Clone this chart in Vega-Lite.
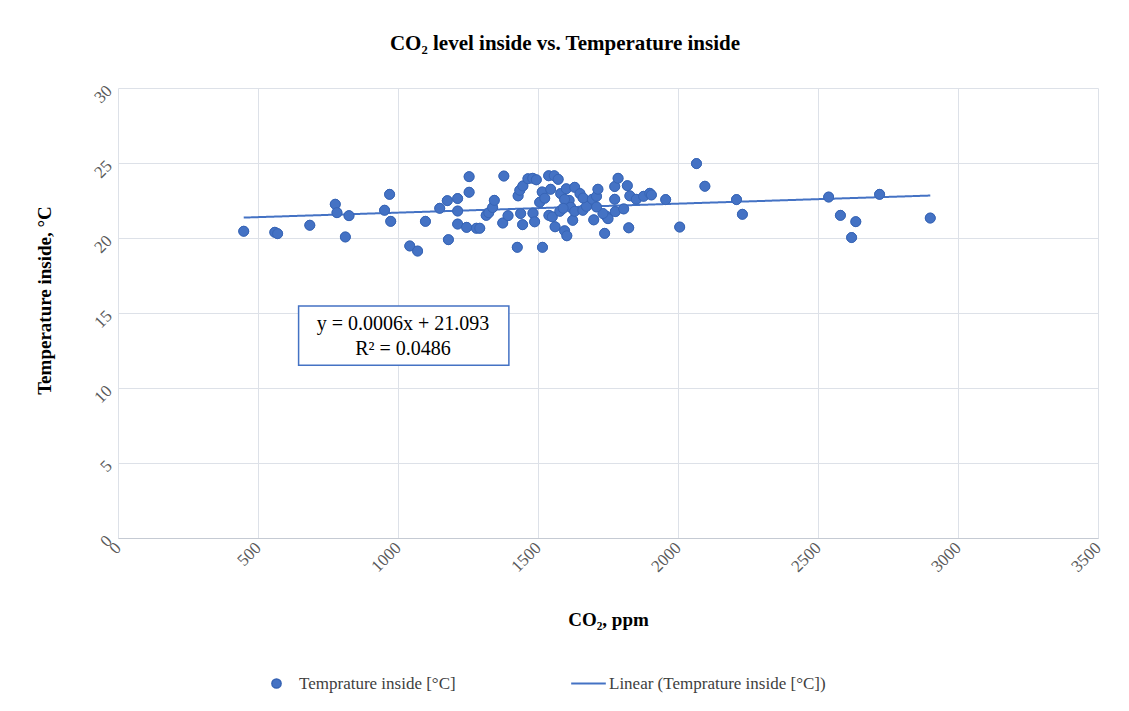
{
  "$schema": "https://vega.github.io/schema/vega-lite/v6.json",
  "width": 980,
  "height": 450,
  "autosize": {"type": "none"},
  "padding": {"left": 118, "top": 88, "right": 31, "bottom": 173},
  "background": "white",
  "config": {"view": {"stroke": null}, "font": "Liberation Serif", "axis": {"labelFont": "Liberation Serif", "titleFont": "Liberation Serif"}, "legend": {"labelFont": "Liberation Serif"}},
  "title": {"text": "CO₂ level inside vs. Temperature inside", "fontSize": 21, "font": "Liberation Serif", "fontWeight": "bold", "color": "#000000", "offset": 28, "dx": -43, "anchor": "middle"},
  "datasets": {
    "points": [
      {"co2": 449, "temp": 20.45}, {"co2": 560, "temp": 20.38}, {"co2": 570, "temp": 20.29}, {"co2": 685, "temp": 20.85},
      {"co2": 776, "temp": 22.25}, {"co2": 782, "temp": 21.69}, {"co2": 812, "temp": 20.07}, {"co2": 825, "temp": 21.49},
      {"co2": 952, "temp": 21.85}, {"co2": 970, "temp": 22.91}, {"co2": 974, "temp": 21.11}, {"co2": 1042, "temp": 19.47},
      {"co2": 1070, "temp": 19.13}, {"co2": 1098, "temp": 21.11}, {"co2": 1149, "temp": 21.98}, {"co2": 1176, "temp": 22.49},
      {"co2": 1180, "temp": 19.89}, {"co2": 1213, "temp": 22.63}, {"co2": 1213, "temp": 21.8}, {"co2": 1213, "temp": 20.93},
      {"co2": 1245, "temp": 20.71}, {"co2": 1280, "temp": 20.65}, {"co2": 1292, "temp": 20.65}, {"co2": 1254, "temp": 24.09},
      {"co2": 1254, "temp": 23.05}, {"co2": 1315, "temp": 21.51}, {"co2": 1324, "temp": 21.68}, {"co2": 1338, "temp": 22.03},
      {"co2": 1344, "temp": 22.51}, {"co2": 1378, "temp": 24.13}, {"co2": 1374, "temp": 21.0}, {"co2": 1393, "temp": 21.49},
      {"co2": 1429, "temp": 22.81}, {"co2": 1435, "temp": 23.18}, {"co2": 1446, "temp": 23.47}, {"co2": 1464, "temp": 23.95},
      {"co2": 1481, "temp": 23.98}, {"co2": 1494, "temp": 23.88}, {"co2": 1426, "temp": 19.38}, {"co2": 1438, "temp": 21.63},
      {"co2": 1445, "temp": 20.89}, {"co2": 1482, "temp": 21.65}, {"co2": 1488, "temp": 21.08}, {"co2": 1506, "temp": 22.38},
      {"co2": 1516, "temp": 19.38}, {"co2": 1515, "temp": 23.07}, {"co2": 1538, "temp": 24.15}, {"co2": 1558, "temp": 24.15},
      {"co2": 1572, "temp": 23.91}, {"co2": 1539, "temp": 21.51}, {"co2": 1551, "temp": 21.41}, {"co2": 1561, "temp": 20.75},
      {"co2": 1578, "temp": 21.78}, {"co2": 1581, "temp": 22.96}, {"co2": 1595, "temp": 20.48}, {"co2": 1603, "temp": 20.15},
      {"co2": 1601, "temp": 23.28}, {"co2": 1611, "temp": 22.51}, {"co2": 1617, "temp": 22.05}, {"co2": 1624, "temp": 21.18},
      {"co2": 1631, "temp": 23.38}, {"co2": 1650, "temp": 22.96}, {"co2": 1631, "temp": 21.78}, {"co2": 1660, "temp": 21.85},
      {"co2": 1673, "temp": 22.11}, {"co2": 1661, "temp": 22.67}, {"co2": 1694, "temp": 22.58}, {"co2": 1709, "temp": 22.78},
      {"co2": 1699, "temp": 21.21}, {"co2": 1714, "temp": 23.25}, {"co2": 1738, "temp": 20.31}, {"co2": 1744, "temp": 21.45},
      {"co2": 1750, "temp": 21.29}, {"co2": 1732, "temp": 21.63}, {"co2": 1709, "temp": 22.07}, {"co2": 1776, "temp": 21.76},
      {"co2": 1774, "temp": 22.58}, {"co2": 1774, "temp": 23.43}, {"co2": 1786, "temp": 23.98}, {"co2": 1806, "temp": 21.94},
      {"co2": 1819, "temp": 23.49}, {"co2": 1828, "temp": 22.81}, {"co2": 1824, "temp": 20.68}, {"co2": 1851, "temp": 22.58},
      {"co2": 1877, "temp": 22.78}, {"co2": 1899, "temp": 22.98}, {"co2": 1905, "temp": 22.87}, {"co2": 1956, "temp": 22.56},
      {"co2": 2006, "temp": 20.73}, {"co2": 2066, "temp": 24.96}, {"co2": 2096, "temp": 23.45}, {"co2": 2209, "temp": 22.56},
      {"co2": 2230, "temp": 21.58}, {"co2": 2538, "temp": 22.73}, {"co2": 2580, "temp": 21.51}, {"co2": 2620, "temp": 20.03},
      {"co2": 2635, "temp": 21.09}, {"co2": 2720, "temp": 22.91}, {"co2": 2901, "temp": 21.33}, {"co2": 1545, "temp": 23.25},
      {"co2": 1524, "temp": 22.65}, {"co2": 1595, "temp": 22.58}, {"co2": 1590, "temp": 21.98}
    ],
    "trend": [
      {"co2": 449, "temp": 21.36, "series": "Linear (Temprature inside [°C])"},
      {"co2": 2901, "temp": 22.83, "series": "Linear (Temprature inside [°C])"}
    ],
    "box": [{"x1": 645, "x2": 1396, "y1": 15.47, "y2": 11.51}],
    "eq": [
      {"x": 1018, "y": 14.29, "label": "y = 0.0006x + 21.093"},
      {"x": 1018, "y": 12.63, "label": "R² = 0.0486"}
    ]
  },
  "layer": [
    {
      "data": {"name": "points"},
      "transform": [{"calculate": "'Temprature inside [°C]'", "as": "series"}],
      "mark": {"type": "point", "filled": true, "size": 100, "opacity": 1, "stroke": "#3562b3", "strokeWidth": 0.8},
      "encoding": {
        "x": {
          "field": "co2", "type": "quantitative",
          "scale": {"domain": [0, 3500], "nice": false, "zero": false},
          "axis": {
            "title": "CO₂, ppm", "values": [0, 500, 1000, 1500, 2000, 2500, 3000, 3500], "format": "d",
            "labelAngle": -45, "labelAlign": "right", "labelBaseline": "middle",
            "labelFontSize": 17, "labelColor": "#595959", "labelFont": "Liberation Serif", "labelPadding": 7,
            "ticks": false, "domainColor": "#c5cad3", "grid": true, "gridColor": "#dde1e8",
            "titleFontSize": 19, "titleFontWeight": "bold", "titleColor": "#000000", "titleFont": "Liberation Serif", "titlePadding": 36
          }
        },
        "y": {
          "field": "temp", "type": "quantitative",
          "scale": {"domain": [0, 30], "nice": false, "zero": false},
          "axis": {
            "title": "Temperature inside, °C", "values": [0, 5, 10, 15, 20, 25, 30], "format": "d",
            "labelAngle": -45, "labelAlign": "right", "labelBaseline": "middle",
            "labelFontSize": 17, "labelColor": "#595959", "labelFont": "Liberation Serif", "labelPadding": 9,
            "ticks": false, "domain": false, "grid": true, "gridColor": "#dde1e8",
            "titleFontSize": 19, "titleFontWeight": "bold", "titleColor": "#000000", "titleFont": "Liberation Serif", "titlePadding": 36, "titleY": 212
          }
        },
        "color": {
          "field": "series", "type": "nominal",
          "scale": {"domain": ["Temprature inside [°C]"], "range": ["#4472C4"]},
          "legend": {
            "orient": "none", "legendX": 150, "legendY": 587, "title": null,
            "symbolType": "circle", "symbolSize": 85, "labelFontSize": 17, "labelFont": "Liberation Serif",
            "labelColor": "#404040", "labelOffset": 14, "labelLimit": 400
          }
        }
      }
    },
    {
      "data": {"name": "box"},
      "mark": {"type": "rect", "fill": "white", "stroke": "#4472C4", "strokeWidth": 1.5},
      "encoding": {
        "x": {"field": "x1", "type": "quantitative"},
        "x2": {"field": "x2"},
        "y": {"field": "y1", "type": "quantitative"},
        "y2": {"field": "y2"}
      }
    },
    {
      "data": {"name": "eq"},
      "mark": {"type": "text", "fontSize": 20, "font": "Liberation Serif", "color": "#000000", "align": "center", "baseline": "middle"},
      "encoding": {
        "x": {"field": "x", "type": "quantitative"},
        "y": {"field": "y", "type": "quantitative"},
        "text": {"field": "label"}
      }
    },
    {
      "data": {"name": "trend"},
      "mark": {"type": "line", "color": "#4472C4", "strokeWidth": 2},
      "encoding": {
        "x": {"field": "co2", "type": "quantitative"},
        "y": {"field": "temp", "type": "quantitative"},
        "strokeDash": {
          "field": "series", "type": "nominal",
          "scale": {"domain": ["Linear (Temprature inside [°C])"], "range": [[1, 0]]},
          "legend": {
            "orient": "none", "legendX": 452, "legendY": 577, "title": null,
            "symbolSize": 1200, "symbolStrokeColor": "#4472C4", "symbolStrokeWidth": 2,
            "labelFontSize": 17, "labelFont": "Liberation Serif", "labelColor": "#404040", "labelOffset": 2, "labelLimit": 500
          }
        }
      }
    },
    {
      "data": {"name": "points"},
      "mark": {"type": "point", "filled": true, "size": 100, "opacity": 1, "color": "#4472C4", "stroke": "#3562b3", "strokeWidth": 0.8},
      "encoding": {
        "x": {"field": "co2", "type": "quantitative"},
        "y": {"field": "temp", "type": "quantitative"}
      }
    }
  ]
}
